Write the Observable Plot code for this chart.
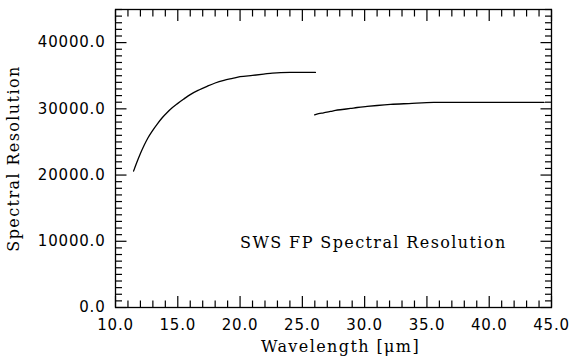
<!DOCTYPE html>
<html><head><meta charset="utf-8">
<script src="https://cdn.jsdelivr.net/npm/d3@7"></script>
<script src="https://cdn.jsdelivr.net/npm/@observablehq/plot@0.6"></script>
<style>
html,body{margin:0;padding:0;background:#fff;}
g[aria-label="x-axis tick label"] text, g[aria-label="y-axis tick label"] text {letter-spacing:0.8px;}
g[aria-label="text"] text {letter-spacing:1.4px;}
</style></head><body><div id="chart"></div>
<script>
// Short-wavelength segment (wavelength in µm, resolution)
const xShort = [11.45, 11.7, 12.0, 12.3, 12.6, 12.95, 13.35, 13.75, 14.15, 14.55, 14.95, 15.5, 16.0, 16.7, 17.35, 18.0, 18.7, 19.4, 20.0, 21.0, 21.9, 22.6, 23.25, 24.0, 25.0, 26.05];
const yShort = [20590, 21850, 23250, 24500, 25600, 26650, 27700, 28650, 29450, 30150, 30750, 31500, 32150, 32850, 33400, 33900, 34300, 34600, 34850, 35050, 35240, 35400, 35480, 35500, 35500, 35500];
// Long-wavelength segment
const xLong = [25.98, 26.3, 26.7, 27.26, 27.66, 28.2, 28.87, 29.4, 30.2, 31.0, 32.08, 33.55, 35.55, 38.0, 41.0, 44.4];
const yLong = [29100, 29260, 29400, 29600, 29760, 29900, 30060, 30200, 30360, 30500, 30660, 30800, 30970, 30970, 30970, 30970];

const xMajorTicks = [10, 15, 20, 25, 30, 35, 40, 45];
const yMajorTicks = [0, 10000, 20000, 30000, 40000];
const xMinorTicks = d3.range(10, 46, 1).filter(v => v % 5 !== 0);
const yMinorTicks = d3.range(0, 45001, 1000).filter(v => v % 10000 !== 0);

const titleText = "SWS FP Spectral Resolution";
const titleX = 20.0, titleY = 9000;
const xLabel = "Wavelength [μm]";
const yLabel = "Spectral Resolution";

const xDomain = [10, 45], yDomain = [0, 45000];
const W = 569, H = 364, mL = 115, mR = 18, mT = 9, mB = 57;
const xMajLen = 11, xMinLen = 6.5, yMajLen = 11.5, yMinLen = 7;

const rows = [
  ...xShort.map((x, i) => ({x, y: yShort[i], s: "short"})),
  ...xLong.map((x, i) => ({x, y: yLong[i], s: "long"}))
];

const serif = "DejaVu Serif";
const sans = "DejaVu Sans";
const tk = {stroke: "black", strokeWidth: 1.2, fill: "none", label: null};

// inward ticks: axis tick marks shifted back inside the frame by their own length
const inX = (vals, len, anchor) => Plot.axisX(vals, {anchor, tickSize: len, dy: anchor === "bottom" ? -len : len, ...tk});
const inY = (vals, len, anchor) => Plot.axisY(vals, {anchor, tickSize: len, dx: anchor === "left" ? len : -len, ...tk});

const chart = Plot.plot({
  width: W, height: H,
  marginLeft: mL, marginRight: mR, marginTop: mT, marginBottom: mB,
  x: {domain: xDomain},
  y: {domain: yDomain},
  style: {background: "white", color: "black", fontFamily: sans, fontSize: "15px"},
  marks: [
    Plot.frame({stroke: "black", fill: "none", strokeWidth: 1.3}),
    Plot.axisX(xMajorTicks, {anchor: "bottom", tickSize: 0, tickPadding: 12, tickFormat: d => d.toFixed(1), label: null, fontSize: 15, fontFamily: sans}),
    Plot.axisY(yMajorTicks, {anchor: "left", tickSize: 0, tickPadding: 10, tickFormat: d => d.toFixed(1), label: null, fontSize: 15, fontFamily: sans}),
    Plot.line(rows, {x: "x", y: "y", z: "s", stroke: "black", strokeWidth: 1.3, curve: "monotone-x"}),
    Plot.text([titleText], {x: titleX, y: titleY, text: d => d, textAnchor: "start", lineAnchor: "bottom", fontFamily: serif, fontSize: 16, fill: "black"}),
    Plot.text([xLabel], {frameAnchor: "bottom", text: d => d, dx: 7, dy: 44, textAnchor: "middle", lineAnchor: "bottom", fontFamily: serif, fontSize: 16, fill: "black"}),
    Plot.text([yLabel], {frameAnchor: "left", text: d => d, dx: -96.5, rotate: -90, textAnchor: "middle", lineAnchor: "bottom", fontFamily: serif, fontSize: 16, fill: "black"}),
    inX(xMajorTicks, xMajLen, "bottom"),
    inX(xMajorTicks, xMajLen, "top"),
    inX(xMinorTicks, xMinLen, "bottom"),
    inX(xMinorTicks, xMinLen, "top"),
    inY(yMajorTicks, yMajLen, "left"),
    inY(yMajorTicks, yMajLen, "right"),
    inY(yMinorTicks, yMinLen, "left"),
    inY(yMinorTicks, yMinLen, "right")
  ]
});
document.getElementById("chart").appendChild(chart);
</script>
</body></html>
